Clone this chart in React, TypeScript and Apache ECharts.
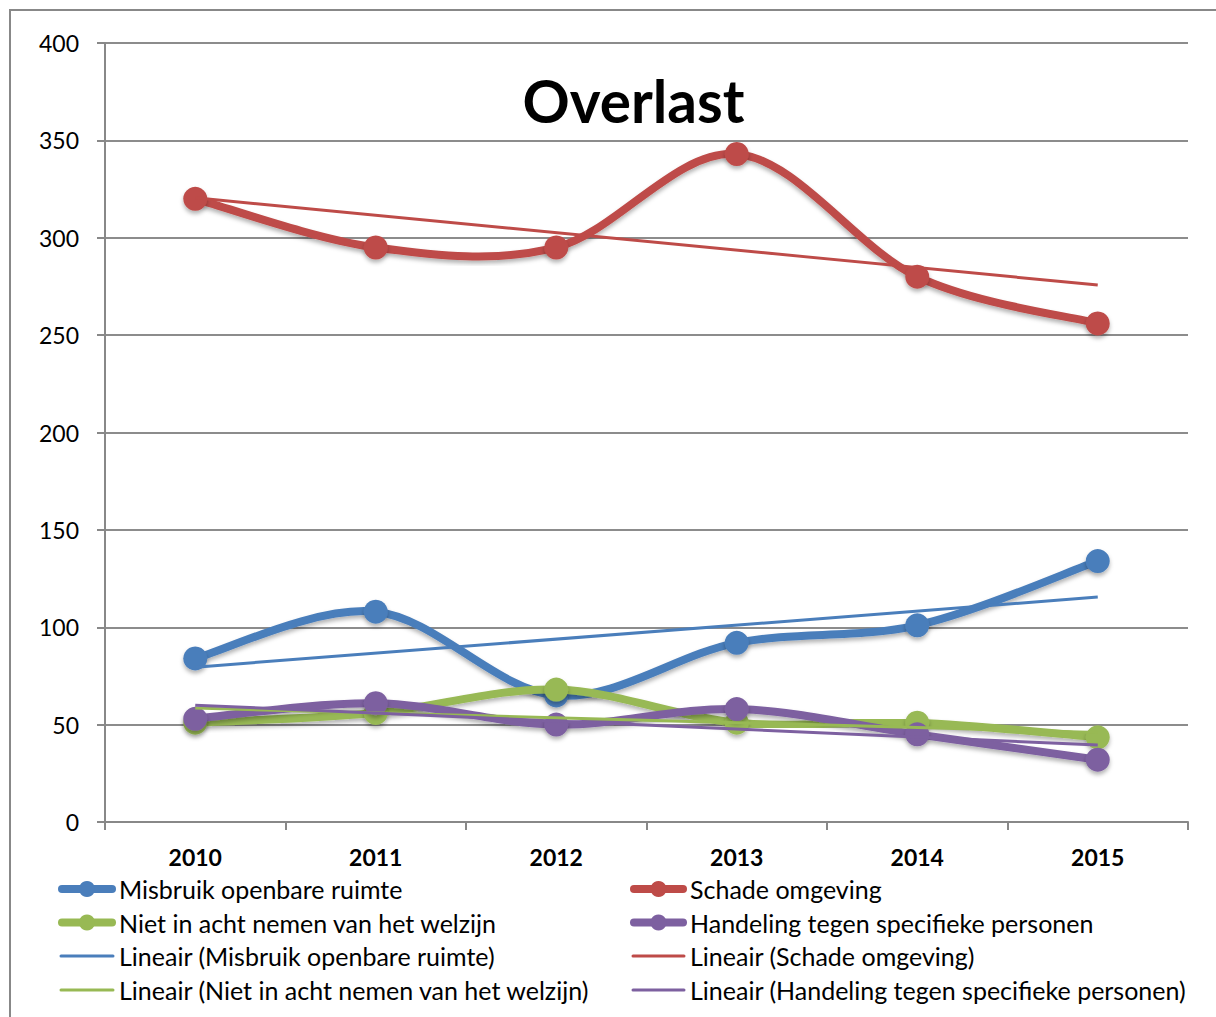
import React, { useEffect, useRef } from "react";
import * as echarts from "echarts";

const categories = ["2010", "2011", "2012", "2013", "2014", "2015"];
const yTicks = { min: 0, max: 400, interval: 50 };

const misbruik = [84, 108, 65, 92, 101, 134];
const schade = [320, 295, 295, 343, 280, 256];
const nietInAcht = [51, 56, 68, 51, 51, 43.5];
const handeling = [53, 61, 50, 58, 45, 32];

// trend line end points (2010 and 2015)
const trendMisbruik = [79.5, null, null, null, null, 115.5];
const trendSchade = [320.5, null, null, null, null, 275.7];
const trendNiet = [58.5, null, null, null, null, 46];
const trendHandeling = [60, null, null, null, null, 39.5];

const names = {
  m: "Misbruik openbare ruimte",
  s: "Schade omgeving",
  n: "Niet in acht nemen van het welzijn",
  h: "Handeling tegen specifieke personen",
};

const BLUE = "#4A7EBB";
const RED = "#BE4B48";
const GREEN = "#98B954";
const PURPLE = "#7D60A0";
const FONT = "Lato, 'Open Sans', sans-serif";

export default function App() {
  const ref = useRef<HTMLDivElement>(null);
  useEffect(() => {
    if (!ref.current) return;
    const chart = echarts.init(ref.current, undefined, { renderer: "svg" });

    // Excel-like smoothed line (Catmull-Rom style bezier, tension 1/6) drawn via custom series
    const main = (name: string, values: number[], color: string, z: number) => ({
      name,
      type: "custom",
      z,
      data: values.map((v, i) => [i, v]),
      encode: { x: 0, y: 1 },
      clip: false,
      renderItem: (params: any, api: any) => {
        const i = params.dataIndex;
        const pts = values.map((v, k) => api.coord([k, v]));
        const n = pts.length;
        const children: any[] = [];
        const shadow = { shadowBlur: 4, shadowColor: "rgba(0,0,0,0.3)", shadowOffsetY: 3 };
        if (i < n - 1) {
          const p0 = pts[Math.max(0, i - 1)];
          const p1 = pts[i];
          const p2 = pts[i + 1];
          const p3 = pts[Math.min(n - 1, i + 2)];
          const c1 = [p1[0] + (p2[0] - p0[0]) / 6, p1[1] + (p2[1] - p0[1]) / 6];
          const c2 = [p2[0] - (p3[0] - p1[0]) / 6, p2[1] - (p3[1] - p1[1]) / 6];
          children.push({
            type: "bezierCurve",
            shape: {
              x1: p1[0], y1: p1[1], x2: p2[0], y2: p2[1],
              cpx1: c1[0], cpy1: c1[1], cpx2: c2[0], cpy2: c2[1],
            },
            style: { stroke: color, lineWidth: 8, fill: null, lineCap: "round", ...shadow },
          });
        }
        children.push({
          type: "circle",
          shape: { cx: pts[i][0], cy: pts[i][1], r: 12 },
          style: { fill: color, ...shadow },
        });
        return { type: "group", children };
      },
    });
    const trend = (name: string, data: (number | null)[], color: string) => ({
      name,
      type: "line",
      data,
      connectNulls: true,
      showSymbol: false,
      symbol: "none",
      z: 15,
      lineStyle: { color, width: 3 },
      itemStyle: { color },
    });

    const legendGraphic: any[] = [];
    const rows = [889, 922.5, 956, 990];
    const cols = [
      { x0: 58, x1: 116, tx: 119, items: [[names.m, BLUE, true], [names.n, GREEN, true], ["Lineair (" + names.m + ")", BLUE, false], ["Lineair (" + names.n + ")", GREEN, false]] },
      { x0: 630, x1: 687, tx: 690, items: [[names.s, RED, true], [names.h, PURPLE, true], ["Lineair (" + names.s + ")", RED, false], ["Lineair (" + names.h + ")", PURPLE, false]] },
    ];
    cols.forEach((c) => {
      c.items.forEach((it: any, r) => {
        const y = rows[r];
        const [label, color, isMain] = it;
        if (isMain) {
          legendGraphic.push({
            type: "line",
            shape: { x1: c.x0 + 4, y1: y, x2: c.x1 - 4, y2: y },
            style: { stroke: color, lineWidth: 8, lineCap: "round" },
          });
          legendGraphic.push({
            type: "circle",
            shape: { cx: (c.x0 + c.x1) / 2, cy: y, r: 8 },
            style: { fill: color },
          });
        } else {
          legendGraphic.push({
            type: "line",
            shape: { x1: c.x0 + 3, y1: y, x2: c.x1 - 3, y2: y },
            style: { stroke: color, lineWidth: 3, lineCap: "round" },
          });
        }
        legendGraphic.push({
          type: "text",
          x: c.tx,
          y: y,
          style: {
            text: label,
            fontFamily: FONT,
            fontSize: 25,
            fill: "#000",
            textAlign: "left",
            textVerticalAlign: "middle",
          },
        });
      });
    });

    chart.setOption({
      animation: false,
      backgroundColor: "#fff",
      textStyle: { fontFamily: FONT },
      grid: { left: 105, right: 28, top: 43, bottom: 195, containLabel: false },
      graphic: [
        {
          type: "rect",
          shape: { x: 10, y: 10, width: 1240, height: 1040 },
          style: { fill: "none", stroke: "#888", lineWidth: 2 },
          silent: true,
        },
        {
          type: "text",
          x: 633.5,
          y: 100,
          style: {
            text: "Overlast",
            fontFamily: FONT,
            fontWeight: "bold",
            fontSize: 58.5,
            fill: "#000",
            textAlign: "center",
            textVerticalAlign: "middle",
          },
          z: 100,
        },
        ...legendGraphic,
      ],
      xAxis: {
        type: "category",
        data: categories,
        boundaryGap: true,
        axisLine: { lineStyle: { color: "#888", width: 2 } },
        axisTick: { show: true, length: 8, lineStyle: { color: "#888", width: 2 } },
        axisLabel: { color: "#000", fontFamily: FONT, fontWeight: "bold", fontSize: 23, margin: 23 },
      },
      yAxis: {
        type: "value",
        min: yTicks.min,
        max: yTicks.max,
        interval: yTicks.interval,
        axisLine: { show: true, lineStyle: { color: "#888", width: 2 } },
        axisTick: { show: true, length: 8, lineStyle: { color: "#888", width: 2 } },
        axisLabel: { color: "#000", fontFamily: FONT, fontSize: 23, margin: 26 },
        splitLine: { show: true, lineStyle: { color: "#8c8c8c", width: 2 } },
      },
      series: [
        main(names.m, misbruik, BLUE, 10),
        main(names.s, schade, RED, 11),
        main(names.n, nietInAcht, GREEN, 12),
        main(names.h, handeling, PURPLE, 13),
        trend("Lineair (" + names.m + ")", trendMisbruik, BLUE),
        trend("Lineair (" + names.s + ")", trendSchade, RED),
        trend("Lineair (" + names.n + ")", trendNiet, GREEN),
        trend("Lineair (" + names.h + ")", trendHandeling, PURPLE),
      ],
    });
    return () => chart.dispose();
  }, []);
  return (
    <div
      ref={ref}
      style={{ position: "absolute", left: 0, top: 0, width: 1216, height: 1017 }}
    />
  );
}
